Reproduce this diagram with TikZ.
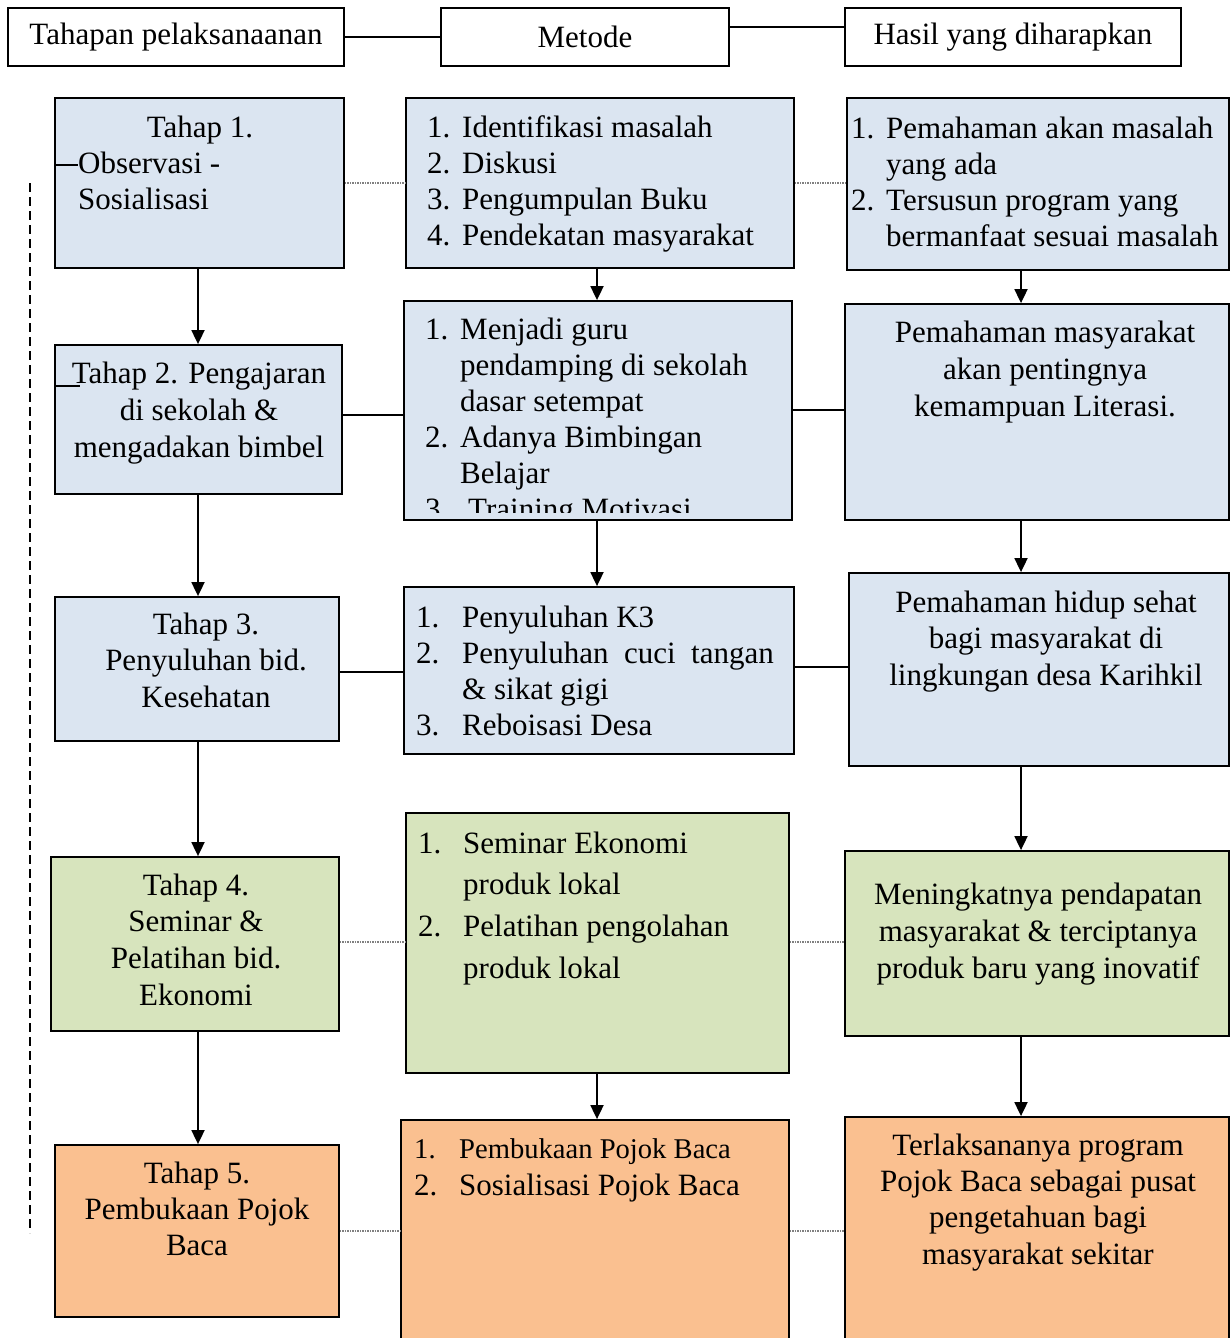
\documentclass[tikz,border=0pt]{standalone}
\usepackage{fontspec}
\setmainfont{Liberation Serif}
\usetikzlibrary{arrows.meta}
\definecolor{blu}{HTML}{DBE5F1}
\definecolor{grn}{HTML}{D7E4BD}
\definecolor{ora}{HTML}{FAC090}
\tikzset{
  box/.style={draw, line width=1.8pt, inner sep=0pt},
  txt/.style={inner sep=0pt, font=\fontsize{31}{#1}\selectfont},
  txt/.default=36,
  lnk/.style={line width=1.8pt},
  arr/.style={line width=1.8pt, -{Triangle[length=14pt,width=13pt]}},
  dotlink/.style={line width=1.4pt, gray, dash pattern=on 1.5pt off 1pt},
}
\begin{document}
\begin{tikzpicture}[x=1pt,y=-1pt]
  \clip (0,0) rectangle (1231,1338);
  % columns and rows of the connectors
  \coordinate (tcol) at (198,0);
  \coordinate (mcol) at (597,0);
  \coordinate (rcol) at (1021,0);
  \coordinate (y1) at (0,183);
  \coordinate (y2a) at (0,415);
  \coordinate (y2b) at (0,410);
  \coordinate (y3a) at (0,672);
  \coordinate (y3b) at (0,667);
  \coordinate (y4) at (0,942);
  \coordinate (y5) at (0,1231);

  % header
  \node[box, txt, minimum width=336pt, minimum height=58pt] (h1) at (176,37) {Tahapan pelaksanaanan};
  \node[box, txt, minimum width=288pt, minimum height=58pt] (h2) at (585,37) {Metode};
  \node[box, txt, minimum width=336pt, minimum height=58pt] (h3) at (1013,37) {Hasil yang diharapkan};
  \draw[lnk] (h1) -- (h2);
  \draw[lnk] ([yshift=10pt]h2.east) -- ([yshift=10pt]h3.west);

  % boxes
  \node[box, fill=blu, minimum width=289pt, minimum height=170pt] (t1) at (199.5,183) {};
  \node[box, fill=blu, minimum width=388pt, minimum height=170pt] (m1) at (600,183) {};
  \node[box, fill=blu, minimum width=382pt, minimum height=172pt] (r1) at (1038,184) {};
  \node[box, fill=blu, minimum width=287pt, minimum height=149pt] (t2) at (198.5,419.5) {};
  \node[box, fill=blu, minimum width=388pt, minimum height=219pt] (m2) at (598,410.5) {};
  \node[box, fill=blu, minimum width=384pt, minimum height=216pt] (r2) at (1037,412) {};
  \node[box, fill=blu, minimum width=284pt, minimum height=144pt] (t3) at (197,669) {};
  \node[box, fill=blu, minimum width=390pt, minimum height=167pt] (m3) at (599,670.5) {};
  \node[box, fill=blu, minimum width=380pt, minimum height=193pt] (r3) at (1039,669.5) {};
  \node[box, fill=grn, minimum width=288pt, minimum height=174pt] (t4) at (195,944) {};
  \node[box, fill=grn, minimum width=383pt, minimum height=260pt] (m4) at (597.5,943) {};
  \node[box, fill=grn, minimum width=384pt, minimum height=185pt] (r4) at (1037,943.5) {};
  \node[box, fill=ora, minimum width=284pt, minimum height=172pt] (t5) at (197,1231) {};
  \node[box, fill=ora, minimum width=388pt, minimum height=240pt] (m5) at (595,1240) {};
  \node[box, fill=ora, minimum width=384pt, minimum height=243pt] (r5) at (1037,1238.5) {};

  % links between the columns
  \draw[dotlink] (t1.east |- y1) -- (m1.west |- y1);
  \draw[dotlink] (m1.east |- y1) -- (r1.west |- y1);
  \draw[lnk] (t2.east |- y2a) -- (m2.west |- y2a);
  \draw[lnk] (m2.east |- y2b) -- (r2.west |- y2b);
  \draw[lnk] (t3.east |- y3a) -- (m3.west |- y3a);
  \draw[lnk] (m3.east |- y3b) -- (r3.west |- y3b);
  \draw[dotlink] (t4.east |- y4) -- (m4.west |- y4);
  \draw[dotlink] (m4.east |- y4) -- (r4.west |- y4);
  \draw[dotlink] (t5.east |- y5) -- (m5.west |- y5);
  \draw[dotlink] (m5.east |- y5) -- (r5.west |- y5);

  % arrows down
  \draw[arr] (tcol |- t1.south) -- (tcol |- t2.north);
  \draw[arr] (tcol |- t2.south) -- (tcol |- t3.north);
  \draw[arr] (tcol |- t3.south) -- (tcol |- t4.north);
  \draw[arr] (tcol |- t4.south) -- (tcol |- t5.north);
  \draw[arr] (mcol |- m1.south) -- (mcol |- m2.north);
  \draw[arr] (mcol |- m2.south) -- (mcol |- m3.north);
  \draw[arr] (mcol |- m4.south) -- (mcol |- m5.north);
  \draw[arr] (rcol |- r1.south) -- (rcol |- r2.north);
  \draw[arr] (rcol |- r2.south) -- (rcol |- r3.north);
  \draw[arr] (rcol |- r3.south) -- (rcol |- r4.north);
  \draw[arr] (rcol |- r4.south) -- (rcol |- r5.north);

  % stray strokes and the dashed rule
  \draw[lnk] ([yshift=18pt]t1.west) -- ++(24,0);
  \draw[lnk] ([yshift=33.5pt]t2.west) -- ++(26,0);
  \draw[line width=1.6pt, dash pattern=on 9pt off 5pt] (30,183) -- (30,1233);

  % texts
  \node[txt, anchor=base] (t1a) at (200,137) {Tahap 1.};
  \node[txt, anchor=north west] (t1b) at (78,147.8) {\begin{tabular}{@{}l@{}}Observasi -\\Sosialisasi\end{tabular}};
  \node[txt, anchor=north west] (m1t) at (427,111.8) {\begin{tabular}{@{}p{35pt}@{}l@{}}1.&Identifikasi masalah\\2.&Diskusi\\3.&Pengumpulan Buku\\4.&Pendekatan masyarakat\end{tabular}};
  \node[txt, anchor=north west] (r1t) at (851,112.8) {\begin{tabular}{@{}p{35pt}@{}l@{}}1.&Pemahaman akan masalah\\&yang ada\\2.&Tersusun program yang\\&bermanfaat sesuai masalah\end{tabular}};

  \node[txt=37, anchor=north] (t2t) at (199,357.1) {\begin{tabular}{@{}c@{}}Tahap 2. Pengajaran\\di sekolah \&\\mengadakan bimbel\end{tabular}};
  \begin{scope}
    \clip (404,301) rectangle (792,512);
    \node[txt, anchor=north west] (m2t) at (425,313.8) {\begin{tabular}{@{}p{35pt}@{}l@{}}1.&Menjadi guru\\&pendamping di sekolah\\&dasar setempat\\2.&Adanya Bimbingan\\&Belajar\\3.&\hspace{8pt}Training Motivasi\end{tabular}};
  \end{scope}
  \node[txt=37, anchor=north] (r2t) at (1045,316.1) {\begin{tabular}{@{}c@{}}Pemahaman masyarakat\\akan pentingnya\\kemampuan Literasi.\end{tabular}};

  \node[txt=36.5, anchor=north] (t3t) at (206,608.45) {\begin{tabular}{@{}c@{}}Tahap 3.\\Penyuluhan bid.\\Kesehatan\end{tabular}};
  \node[txt, anchor=north west] (m3t) at (416,601.8) {\begin{tabular}{@{}p{46pt}@{}l@{}}1.&Penyuluhan K3\\2.&Penyuluhan\ \ cuci\ \ tangan\\&\& sikat gigi\\3.&Reboisasi Desa\end{tabular}};
  \node[txt=36.5, anchor=north] (r3t) at (1046,586.45) {\begin{tabular}{@{}c@{}}Pemahaman hidup sehat\\bagi masyarakat di\\lingkungan desa Karihkil\end{tabular}};

  \node[txt=36.7, anchor=north] (t4t) at (196,869.3) {\begin{tabular}{@{}c@{}}Tahap 4.\\Seminar \&\\Pelatihan bid.\\Ekonomi\end{tabular}};
  \node[txt=41.7, anchor=north west] (m4t) at (418,823.8) {\begin{tabular}{@{}p{45pt}@{}l@{}}1.&Seminar Ekonomi\\&produk lokal\\2.&Pelatihan pengolahan\\&produk lokal\end{tabular}};
  \node[txt=37, anchor=north] (r4t) at (1038,878.1) {\begin{tabular}{@{}c@{}}Meningkatnya pendapatan\\masyarakat \& terciptanya\\produk baru yang inovatif\end{tabular}};

  \node[txt, anchor=north] (t5t) at (197,1157.8) {\begin{tabular}{@{}c@{}}Tahap 5.\\Pembukaan Pojok\\Baca\end{tabular}};
  \node[txt=37, anchor=north west] (m5t) at (414,1132.1) {\begin{tabular}{@{}p{45pt}@{}l@{}}{\fontsize{28.6}{37}\selectfont 1.}&{\fontsize{28.6}{37}\selectfont Pembukaan Pojok Baca}\\2.&Sosialisasi Pojok Baca\end{tabular}};
  \node[txt=36.3, anchor=north] (r5t) at (1038,1129.6) {\begin{tabular}{@{}c@{}}Terlaksananya program\\Pojok Baca sebagai pusat\\pengetahuan bagi\\masyarakat sekitar\end{tabular}};
\end{tikzpicture}
\end{document}
